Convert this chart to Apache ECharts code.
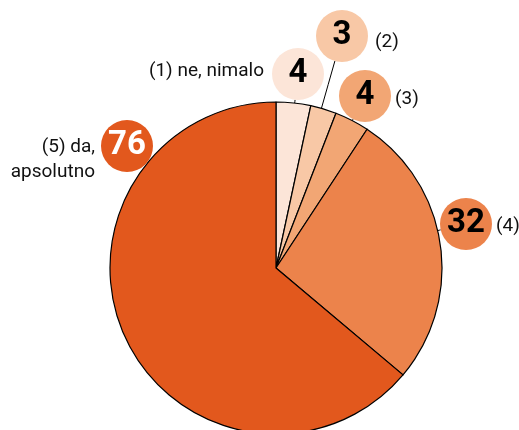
<!DOCTYPE html>
<html>
<head>
<meta charset="utf-8">
<script src="https://cdn.jsdelivr.net/npm/echarts@6/dist/echarts.min.js"></script>
<style>
  html, body { margin: 0; padding: 0; background: #fff; }
  #chart-div { width: 519px; height: 430px; }
</style>
</head>
<body>
<div id="chart-div"></div>
<script>
// answer categories, clockwise from the top
const categories = ['(1) ne, nimalo', '(2)', '(3)', '(4)', '(5) da,\napsolutno'];
const values = [4, 3, 4, 32, 76];
const colors = ['#fce5d8', '#f8c8a6', '#f2a674', '#ec834b', '#e2581d'];
const numberColors = ['#000', '#000', '#000', '#000', '#fff'];

// layout of the pie, badges and captions
const center = [276, 268];
const radius = 166;
const badgeR = 26;
const badgePos = [[298, 74], [342, 36], [365, 96], [466, 224], [127, 146]];
const captionPos = [
  { x: 264, y: 71, align: 'right' },
  { x: 375, y: 42, align: 'left' },
  { x: 395, y: 99, align: 'left' },
  { x: 496, y: 226, align: 'left' },
  { x: 95, y: 160, align: 'right' },
];

var myChart = echarts.init(document.getElementById('chart-div'));

// radial leader line: from the pie rim to the badge rim
const leader = i => {
  const [bx, by] = badgePos[i];
  const dx = bx - center[0];
  const dy = by - center[1];
  const d = Math.sqrt(dx * dx + dy * dy);
  const ux = dx / d;
  const uy = dy / d;
  const a = [center[0] + ux * radius, center[1] + uy * radius];
  const b = [bx - ux * badgeR, by - uy * badgeR];
  return [a, [(a[0] + b[0]) / 2, (a[1] + b[1]) / 2], b];
};

const pieData = values.map((v, i) => ({
  name: categories[i],
  value: v,
  itemStyle: { color: colors[i] },
  label: { backgroundColor: colors[i], color: numberColors[i] },
}));

myChart.setOption({
  backgroundColor: '#fff',
  animation: false,
  series: [
    {
      // captions only, no sectors drawn
      type: 'pie',
      silent: true,
      center,
      radius,
      startAngle: 90,
      z: 1,
      itemStyle: { color: 'rgba(0,0,0,0)', borderWidth: 0 },
      data: values.map((v, i) => ({ name: categories[i], value: v })),
      label: {
        show: true,
        formatter: '{b}',
        fontFamily: 'Roboto',
        fontSize: 19,
        lineHeight: 25,
        color: '#111',
        overflow: 'none',
      },
      labelLine: { show: false },
      labelLayout: p => ({
        x: captionPos[p.dataIndex].x,
        y: captionPos[p.dataIndex].y,
        align: captionPos[p.dataIndex].align,
        verticalAlign: 'middle',
      }),
    },
    {
      type: 'pie',
      center,
      radius,
      startAngle: 90,
      clockwise: true,
      z: 2,
      itemStyle: { borderColor: '#000', borderWidth: 1.2 },
      data: pieData,
      label: {
        show: true,
        position: 'outside',
        formatter: '{c}',
        fontFamily: 'Roboto',
        fontWeight: 'bold',
        fontSize: 33,
        width: badgeR * 2,
        height: badgeR * 2,
        lineHeight: badgeR * 2,
        borderRadius: badgeR,
        align: 'center',
        verticalAlign: 'middle',
        overflow: 'none',
      },
      labelLine: {
        show: true,
        length: 6,
        length2: 0,
        lineStyle: { color: '#000', width: 1 },
      },
      labelLayout: p => ({
        x: badgePos[p.dataIndex][0],
        y: badgePos[p.dataIndex][1],
        align: 'center',
        verticalAlign: 'middle',
        labelLinePoints: leader(p.dataIndex),
      }),
      emphasis: { disabled: true },
    },
  ],
});
</script>
</body>
</html>
